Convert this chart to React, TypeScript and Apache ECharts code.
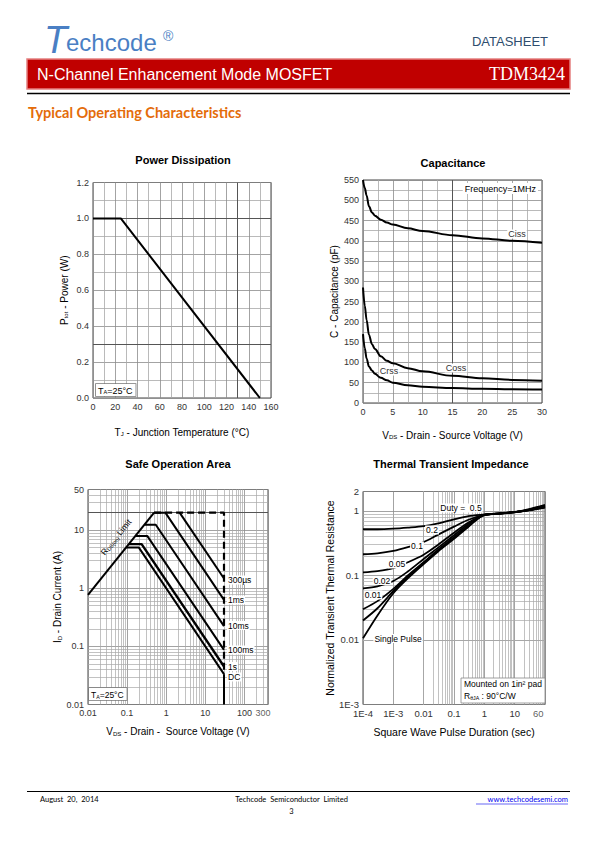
import React, { useEffect, useRef } from "react";
import * as echarts from "echarts";

const FONT = "'Liberation Sans', Arial, sans-serif";
const SERIF = "'Liberation Serif', 'Times New Roman', serif";
const CAL = "Lato, 'Open Sans', sans-serif";

// ---------- Power Dissipation ----------
const pdTemp = [0, 25, 150];
const pdPower = [1.0, 1.0, 0.0];

// ---------- Capacitance ----------
const capVds = [0, 0.3, 0.6, 1, 1.5, 2, 3, 4, 5, 7.5, 10, 15, 20, 25, 30];
const capCiss = [550, 530, 512, 485, 470, 462, 452, 445, 440, 431, 424, 414, 406, 400, 395];
const capCoss = [285, 240, 205, 168, 145, 133, 115, 104, 98, 86, 78, 67, 61, 57, 55];
const capCrss = [170, 135, 110, 90, 80, 72, 62, 56, 50, 44, 40, 37, 35, 34, 33];

// ---------- Safe Operation Area ----------
const soaRdsV = [0.01, 0.49];
const soaRdsI = [0.77, 20];
const soa300usV = [2.2, 30];
const soa300usI = [20, 1.47];
const soa1msV = [0.49, 0.95, 30];
const soa1msI = [20, 20, 0.63];
const soa10msV = [0.28, 0.54, 30];
const soa10msI = [12.4, 12.4, 0.223];
const soa100msV = [0.16, 0.33, 30];
const soa100msI = [7.9, 7.9, 0.087];
const soa1sV = [0.11, 0.235, 30];
const soa1sI = [5.75, 5.75, 0.045];
const soaDcV = [0.094, 0.2, 30];
const soaDcI = [5.0, 5.0, 0.0333];
const soaLimitV = [0.49, 30, 30];
const soaLimitI = [20, 20, 0.0333];
const soaDropV = [30, 30];
const soaDropI = [0.0333, 0.01];

// ---------- Thermal Transient Impedance ----------
const zthT = [1e-4, 3e-4, 1e-3, 3e-3, 0.01, 0.03, 0.1, 0.3, 1, 3, 10, 30, 100];
const zthD05 = [0.52, 0.52, 0.53, 0.55, 0.58, 0.64, 0.74, 0.83, 0.88, 0.92, 0.97, 1.07, 1.24];
const zthD02 = [0.213, 0.22, 0.24, 0.275, 0.33, 0.43, 0.57, 0.73, 0.87, 0.91, 0.96, 1.05, 1.21];
const zthD01 = [0.112, 0.117, 0.13, 0.16, 0.21, 0.3, 0.46, 0.66, 0.87, 0.91, 0.96, 1.04, 1.19];
const zthD005 = [0.063, 0.068, 0.082, 0.115, 0.18, 0.27, 0.42, 0.63, 0.87, 0.91, 0.96, 1.04, 1.17];
const zthD002 = [0.03, 0.04, 0.062, 0.1, 0.16, 0.25, 0.39, 0.6, 0.87, 0.91, 0.96, 1.03, 1.16];
const zthD001 = [0.02, 0.031, 0.057, 0.095, 0.155, 0.245, 0.38, 0.58, 0.87, 0.91, 0.96, 1.03, 1.15];
const zthSingle = [0.0106, 0.024, 0.053, 0.09, 0.15, 0.235, 0.37, 0.57, 0.87, 0.9, 0.95, 1.02, 1.13];

// tick label texts
const soaXLabels: Record<string, string> = { "-2": "0.01", "-1": "0.1", "0": "1", "1": "10", "2": "100" };
const soaYLabels: Record<string, string> = { "-2": "0.01", "-1": "0.1", "0": "1", "1": "10" };
const zthXLabels: Record<string, string> = { "-4": "1E-4", "-3": "1E-3", "-2": "0.01", "-1": "0.1", "0": "1", "1": "10" };
const zthYLabels: Record<string, string> = { "-3": "1E-3", "-2": "0.01", "-1": "0.1", "0": "1" };

const pairs = (xs: number[], ys: number[]) => xs.map((x, i) => [x, ys[i]]);

function logMinors(minExp: number, maxExp: number, maxVal: number) {
  const out: number[] = [];
  for (let e = minExp; e <= maxExp; e++) {
    for (let k = 2; k <= 9; k++) {
      const v = k * Math.pow(10, e);
      if (v < maxVal * 0.999) out.push(v);
    }
  }
  return out;
}

function logFmt(map: Record<string, string>, maxVal?: number, maxText?: string) {
  return (v: number) => {
    if (maxVal !== undefined && Math.abs(v - maxVal) / maxVal < 1e-6) return maxText || "";
    const l = Math.log10(v);
    const r = Math.round(l);
    if (Math.abs(l - r) > 1e-6) return "";
    return map[String(r)] ?? "";
  };
}

const GRIDC = "#a8a8a8";
const MAJC = "#8c8c8c";
const DARKC = "#555";

const axisLabel = { fontFamily: FONT, fontSize: 9, color: "#333", margin: 4 };
const nameStyle = (size = 10) => ({
  fontFamily: FONT,
  fontSize: size,
  color: "#000",
  rich: {
    n: { fontFamily: FONT, fontSize: size, color: "#000" },
    s: { fontFamily: FONT, fontSize: 6, color: "#000", verticalAlign: "bottom" },
  },
});

function gridLineSeries(idx: number, xs: number[], ys: number[], color: string, width: number, pt: number[]) {
  return {
    type: "line",
    xAxisIndex: idx,
    yAxisIndex: idx,
    data: [pt],
    showSymbol: false,
    symbol: "none",
    lineStyle: { opacity: 0 },
    silent: true,
    z: 1,
    markLine: {
      silent: true,
      symbol: ["none", "none"],
      label: { show: false },
      lineStyle: { color, width, type: "solid" },
      data: [...xs.map((v) => ({ xAxis: v })), ...ys.map((v) => ({ yAxis: v }))],
    },
  };
}

const curve = (idx: number, data: number[][], extra: any = {}) => ({
  type: "line",
  xAxisIndex: idx,
  yAxisIndex: idx,
  data,
  symbol: "none",
  showSymbol: false,
  z: 5,
  lineStyle: { color: "#000", width: 2 },
  ...extra,
});

function txt(x: number, y: number, text: string, o: any = {}) {
  return {
    type: "text",
    x,
    y,
    silent: true,
    z: 100,
    style: {
      text,
      fontFamily: o.fontFamily || FONT,
      fontSize: o.fontSize || 9,
      fontWeight: o.fontWeight || "normal",
      fontStyle: o.fontStyle || "normal",
      fill: o.fill || "#000",
      align: o.align || "left",
      verticalAlign: o.verticalAlign || "middle",
      backgroundColor: o.bg,
      borderColor: o.border,
      borderWidth: o.border ? 0.8 : 0,
      padding: o.padding,
      rich: o.rich,
    },
    rotation: o.rotation || 0,
  };
}

const subRich = (size: number) => ({
  n: { fontFamily: FONT, fontSize: size, fill: "#000" },
  s: { fontFamily: FONT, fontSize: size * 0.62, fill: "#000", verticalAlign: "bottom" },
});

function buildOption() {
  const grids = [
    { left: 93, top: 182.5, width: 178, height: 215.5 },
    { left: 363, top: 180, width: 179, height: 223 },
    { left: 88, top: 489.5, width: 180, height: 215 },
    { left: 363, top: 491.5, width: 182, height: 213 },
  ].map((g) => ({ ...g, show: true, borderColor: "#444", borderWidth: 1, containLabel: false }));

  const valueAxisBase = {
    axisLine: { show: false },
    axisTick: { show: false },
    axisLabel,
    splitLine: { show: true, lineStyle: { color: MAJC, width: 0.8 } },
    minorTick: { show: false, splitNumber: 2 },
    minorSplitLine: { show: true, lineStyle: { color: GRIDC, width: 0.8 } },
    nameLocation: "middle",
  };

  const logAxisBase = {
    type: "log",
    logBase: 10,
    axisLine: { show: false },
    axisTick: { show: false },
    splitLine: { show: true, lineStyle: { color: MAJC, width: 0.8 } },
    nameLocation: "middle",
  };

  const xAxis = [
    {
      ...valueAxisBase,
      type: "value",
      gridIndex: 0,
      min: 0,
      max: 160,
      interval: 20,
      name: "{n|T}{s|J}{n| - Junction Temperature (°C)}",
      nameGap: 29,
      nameTextStyle: nameStyle(10),
    },
    {
      ...valueAxisBase,
      type: "value",
      gridIndex: 1,
      min: 0,
      max: 30,
      interval: 5,
      name: "{n|V}{s|DS}{n| - Drain - Source Voltage (V)}",
      nameGap: 27,
      nameTextStyle: nameStyle(10),
    },
    {
      ...logAxisBase,
      gridIndex: 2,
      min: 0.01,
      max: 400,
      axisLabel: { ...axisLabel, formatter: logFmt(soaXLabels, 400, ""), showMaxLabel: false },
      name: "{n|V}{s|DS}{n| - Drain -  Source Voltage (V)}",
      nameGap: 22,
      nameTextStyle: nameStyle(10),
    },
    {
      ...logAxisBase,
      gridIndex: 3,
      min: 1e-4,
      max: 100,
      axisLabel: { ...axisLabel, fontSize: 9.5, formatter: logFmt(zthXLabels, 100, "") },
      name: "Square Wave Pulse Duration (sec)",
      nameGap: 22,
      nameTextStyle: { fontFamily: FONT, fontSize: 10.5, color: "#000" },
    },
  ];

  const yAxis = [
    {
      ...valueAxisBase,
      type: "value",
      gridIndex: 0,
      min: 0,
      max: 1.2,
      interval: 0.2,
      axisLabel: { ...axisLabel, formatter: (v: number) => v.toFixed(1) },
      name: "{n|P}{s|tot}{n| - Power (W)}",
      nameGap: 24,
      nameTextStyle: nameStyle(10),
    },
    {
      ...valueAxisBase,
      type: "value",
      gridIndex: 1,
      min: 0,
      max: 550,
      interval: 50,
      name: "C - Capacitance (pF)",
      nameGap: 24,
      nameTextStyle: { fontFamily: FONT, fontSize: 10, color: "#000" },
    },
    {
      ...logAxisBase,
      gridIndex: 2,
      min: 0.01,
      max: 50,
      axisLabel: { ...axisLabel, formatter: logFmt(soaYLabels, 50, "50") },
      name: "{n|I}{s|D}{n| - Drain Current (A)}",
      nameGap: 22,
      nameTextStyle: nameStyle(10),
    },
    {
      ...logAxisBase,
      gridIndex: 3,
      min: 1e-3,
      max: 2,
      axisLabel: { ...axisLabel, fontSize: 9.5, formatter: logFmt(zthYLabels, 2, "2") },
      name: "Normalized Transient Thermal Resistance",
      nameGap: 27,
      nameTextStyle: { fontFamily: FONT, fontSize: 10.5, color: "#000" },
    },
  ];

  const series: any[] = [
    // grid helpers
    gridLineSeries(0, [130], [1.0, 0.3], DARKC, 1, [0, 0]),
    gridLineSeries(1, [15], [], DARKC, 1, [0, 0]),
    gridLineSeries(2, logMinors(-2, 2, 400), logMinors(-2, 1, 50), GRIDC, 0.7, [0.01, 0.01]),
    gridLineSeries(2, [], [20], DARKC, 1, [0.01, 0.01]),
    gridLineSeries(3, logMinors(-4, 1, 100), logMinors(-3, 0, 2), GRIDC, 0.7, [1e-4, 1e-3]),

    // power dissipation
    curve(0, pairs(pdTemp, pdPower)),

    // capacitance
    curve(1, pairs(capVds, capCiss), { smooth: 0.35, smoothMonotone: "x" }),
    curve(1, pairs(capVds, capCoss), { smooth: 0.35, smoothMonotone: "x" }),
    curve(1, pairs(capVds, capCrss), { smooth: 0.35, smoothMonotone: "x" }),

    // SOA
    curve(2, pairs(soaRdsV, soaRdsI)),
    curve(2, pairs(soa300usV, soa300usI)),
    curve(2, pairs(soa1msV, soa1msI)),
    curve(2, pairs(soa10msV, soa10msI)),
    curve(2, pairs(soa100msV, soa100msI)),
    curve(2, pairs(soa1sV, soa1sI), { lineStyle: { color: "#000", width: 2.4 } }),
    curve(2, pairs(soaDcV, soaDcI)),
    curve(2, pairs(soaLimitV, soaLimitI), { lineStyle: { color: "#000", width: 2.2, type: [7, 4] } }),
    curve(2, pairs(soaDropV, soaDropI)),

    // thermal
    ...[zthD05, zthD02, zthD01, zthD005, zthD002, zthD001, zthSingle].map((d) =>
      curve(3, pairs(zthT, d), { smooth: 0.3, lineStyle: { color: "#000", width: 1.8 } })
    ),
  ];

  const graphic: any[] = [
    // header
    txt(44, 40, "T", { fontSize: 38, fontStyle: "italic", fill: "#4a7fc4", fontFamily: FONT }),
    txt(66, 42, "echcode", { fontSize: 24, fill: "#4a7fc4" }),
    txt(163, 36, "®", { fontSize: 14, fill: "#4a7fc4" }),
    txt(548, 41, "DATASHEET", { fontSize: 13, fill: "#2f4d6e", align: "right" }),
    {
      type: "rect",
      shape: { x: 27, y: 59, width: 543, height: 30 },
      style: { fill: "#c00000", stroke: "#e58080", lineWidth: 1.5 },
      z: 90,
    },
    txt(37, 74, "N-Channel Enhancement Mode MOSFET", { fontSize: 16, fill: "#fff" }),
    txt(565, 74, "TDM3424", { fontSize: 18, fill: "#fff", fontFamily: SERIF, align: "right" }),
    { type: "line", shape: { x1: 27, y1: 93.5, x2: 570, y2: 93.5 }, style: { stroke: "#000", lineWidth: 1.5 }, z: 90 },
    txt(28, 112, "Typical Operating Characteristics", { fontSize: 14.5, fontWeight: "bold", fill: "#e46c0a", fontFamily: CAL }),

    // titles
    txt(183, 160, "Power Dissipation", { fontSize: 11, fontWeight: "bold", align: "center" }),
    txt(453, 163, "Capacitance", { fontSize: 11, fontWeight: "bold", align: "center" }),
    txt(178, 464, "Safe Operation Area", { fontSize: 11, fontWeight: "bold", align: "center" }),
    txt(451, 464, "Thermal Transient Impedance", { fontSize: 11, fontWeight: "bold", align: "center" }),

    // chart 1 annotation
    txt(96, 390, "{n|T}{s|A}{n|=25°C}", { bg: "#fff", border: "#777", padding: [2, 3, 1, 2], rich: subRich(9) }),

    // capacitance annotations
    txt(538, 188.5, "Frequency=1MHz", { fontSize: 9, align: "right", bg: "#fff", padding: [1, 2] }),
    txt(517, 234, "Ciss", { fontSize: 9, align: "center", bg: "#fff", padding: [0, 1], fill: "#333" }),
    txt(456, 368, "Coss", { fontSize: 9, align: "center", bg: "#fff", padding: [0, 1], fill: "#333" }),
    txt(389, 371, "Crss", { fontSize: 9, align: "center", bg: "#fff", padding: [0, 1], fill: "#333" }),

    // SOA annotations
    txt(116, 537, "{n|R}{s|DS(on)}{n| Limit}", { align: "center", rotation: (51 * Math.PI) / 180, rich: subRich(8.5) }),
    txt(227, 580, "300µs", { fontSize: 8.5, bg: "#fff", padding: [0, 1] }),
    txt(227, 600, "1ms", { fontSize: 8.5, bg: "#fff", padding: [0, 1] }),
    txt(227, 625.5, "10ms", { fontSize: 8.5, bg: "#fff", padding: [0, 1] }),
    txt(227, 650, "100ms", { fontSize: 8.5, bg: "#fff", padding: [0, 1] }),
    txt(227, 666.5, "1s", { fontSize: 8.5, bg: "#fff", padding: [0, 1] }),
    txt(227, 677, "DC", { fontSize: 8.5, bg: "#fff", padding: [0, 1] }),
    txt(89, 694, "{n|T}{s|A}{n|=25°C}", { bg: "#fff", border: "#777", padding: [2, 3, 1, 2], rich: subRich(8.5) }),

    // thermal annotations
    txt(461, 508, "Duty =  0.5", { fontSize: 8.5, align: "center", bg: "#fff", padding: [0, 1] }),
    txt(432, 530, "0.2", { fontSize: 8.5, align: "center", bg: "#fff", padding: [0, 1] }),
    txt(417, 546, "0.1", { fontSize: 8.5, align: "center", bg: "#fff", padding: [0, 1] }),
    txt(397, 564, "0.05", { fontSize: 8.5, align: "center", bg: "#fff", padding: [0, 1] }),
    txt(382, 580.5, "0.02", { fontSize: 8.5, align: "center", bg: "#fff", padding: [0, 1] }),
    txt(373, 595, "0.01", { fontSize: 8.5, align: "center", bg: "#fff", padding: [0, 1] }),
    txt(398, 638.5, "Single Pulse", { fontSize: 8.5, align: "center", bg: "#fff", padding: [0, 1] }),
    {
      type: "rect",
      shape: { x: 461, y: 678, width: 84, height: 25 },
      style: { fill: "#fff", stroke: "#888", lineWidth: 0.8 },
      z: 99,
    },
    txt(464, 684, "Mounted on 1in² pad", { fontSize: 8.5 }),
    txt(464, 696, "{n|R}{s|θJA}{n| : 90°C/W}", { rich: subRich(8.5) }),

    // footer
    { type: "line", shape: { x1: 27, y1: 791.5, x2: 570, y2: 791.5 }, style: { stroke: "#000", lineWidth: 1.2 }, z: 90 },
    txt(40, 799.5, "August  20,  2014", { fontSize: 7.5, fontFamily: CAL }),
    txt(291.5, 799.5, "Techcode  Semiconductor  Limited", { fontSize: 7.5, fontFamily: CAL, align: "center" }),
    txt(291.5, 811, "3", { fontSize: 7.5, fontFamily: CAL, align: "center" }),
    txt(568, 799.5, "www.techcodesemi.com", { fontSize: 7.5, fontFamily: CAL, align: "right", fill: "#0000ee" }),
    { type: "line", shape: { x1: 476, y1: 804, x2: 568, y2: 804 }, style: { stroke: "#0000ee", lineWidth: 0.6 }, z: 90 },
  ];

  // extra tick labels ("300" on SOA x axis, "60" on thermal x axis)
  series.push({
    type: "scatter",
    xAxisIndex: 2,
    yAxisIndex: 2,
    data: [[300, 0.01]],
    symbolSize: 0,
    silent: true,
    clip: false,
    label: { show: true, position: "bottom", distance: 4, formatter: "300", ...axisLabel },
  });
  series.push({
    type: "scatter",
    xAxisIndex: 3,
    yAxisIndex: 3,
    data: [[60, 1e-3]],
    symbolSize: 0,
    silent: true,
    clip: false,
    label: { show: true, position: "bottom", distance: 4, formatter: "60", ...axisLabel, fontSize: 9.5 },
  });

  return {
    animation: false,
    backgroundColor: "#fff",
    textStyle: { fontFamily: FONT },
    grid: grids,
    xAxis,
    yAxis,
    series,
    graphic,
  };
}

export default function App() {
  const ref = useRef<HTMLDivElement>(null);
  useEffect(() => {
    if (!ref.current) return;
    const chart = echarts.init(ref.current, undefined, { renderer: "svg" });
    chart.setOption(buildOption() as any);
    return () => chart.dispose();
  }, []);
  return (
    <div
      ref={ref}
      style={{ position: "fixed", left: 0, top: 0, width: 595, height: 842, background: "#fff" }}
    />
  );
}
